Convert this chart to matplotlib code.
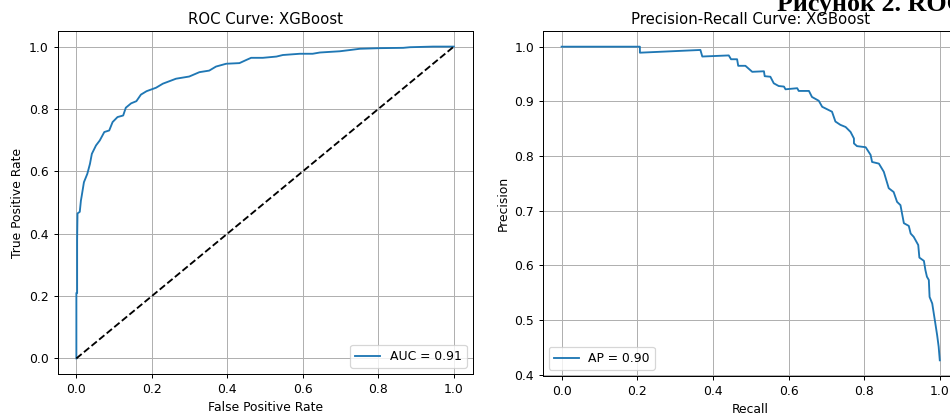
import numpy as np
import matplotlib
matplotlib.use('Agg')
import matplotlib.pyplot as plt

# ROC curve
fpr = [0.0, 0.0, 0.002, 0.002, 0.003, 0.009, 0.012, 0.014, 0.020, 0.029, 0.036,
       0.041, 0.052, 0.062, 0.074, 0.087, 0.096, 0.109, 0.124, 0.131, 0.145,
       0.159, 0.171, 0.186, 0.211, 0.229, 0.264, 0.299, 0.326, 0.352, 0.370,
       0.397, 0.432, 0.450, 0.463, 0.494, 0.530, 0.547, 0.592, 0.626, 0.645,
       0.671, 0.698, 0.725, 0.751, 0.804, 0.866, 0.884, 0.945, 1.0]
tpr = [0.0, 0.21, 0.21, 0.38, 0.465, 0.47, 0.506, 0.52, 0.565, 0.592, 0.624,
       0.656, 0.683, 0.699, 0.726, 0.731, 0.758, 0.774, 0.779, 0.804, 0.818,
       0.825, 0.846, 0.857, 0.868, 0.881, 0.897, 0.904, 0.918, 0.923, 0.936,
       0.945, 0.947, 0.957, 0.964, 0.964, 0.968, 0.973, 0.977, 0.977, 0.981,
       0.983, 0.985, 0.989, 0.993, 0.995, 0.996, 0.998, 1.0, 1.0]
auc_label = 'AUC = 0.91'

# Precision-recall curve
recall = [0.0, 0.207, 0.207, 0.367, 0.372, 0.442, 0.448, 0.464, 0.467, 0.486,
          0.504, 0.535, 0.537, 0.552, 0.561, 0.574, 0.588, 0.592, 0.623, 0.627,
          0.654, 0.662, 0.680, 0.689, 0.715, 0.724, 0.737, 0.751, 0.764, 0.773,
          0.773, 0.781, 0.804, 0.817, 0.821, 0.839, 0.852, 0.865, 0.878, 0.887,
          0.896, 0.905, 0.918, 0.923, 0.931, 0.943, 0.946, 0.958, 0.962, 0.966,
          0.971, 0.973, 0.980, 0.987, 0.993, 0.997, 1.0]
precision = [1.0, 1.0, 0.989, 0.994, 0.982, 0.984, 0.977, 0.977, 0.965, 0.965,
             0.954, 0.955, 0.946, 0.945, 0.933, 0.928, 0.927, 0.922, 0.924, 0.919,
             0.919, 0.908, 0.901, 0.890, 0.881, 0.863, 0.857, 0.853, 0.844, 0.832,
             0.823, 0.818, 0.816, 0.802, 0.789, 0.786, 0.771, 0.741, 0.734, 0.716,
             0.710, 0.677, 0.672, 0.658, 0.652, 0.637, 0.614, 0.608, 0.591, 0.579,
             0.573, 0.542, 0.530, 0.499, 0.472, 0.451, 0.426]
ap_label = 'AP = 0.90'

DPI = 89
fig = plt.figure(figsize=(950 / DPI, 413 / DPI), dpi=DPI)

# left panel
ax = fig.add_axes([57.5 / 950, 39 / 413, 415.2 / 950, 343 / 413])
ax.plot(fpr, tpr, label=auc_label)
ax.plot([0, 1], [0, 1], 'k--')
ax.set_title('ROC Curve: XGBoost')
ax.set_xlabel('False Positive Rate')
ax.set_ylabel('True Positive Rate')
ax.legend(loc='lower right')
ax.grid(True)

# right panel (runs past the right edge, like the reference crop)
bx = fig.add_axes([542.7 / 950, 37 / 413, 416 / 950, 345 / 413])
bx.plot(recall, precision, label=ap_label)
bx.set_title('Precision-Recall Curve: XGBoost')
bx.set_xlabel('Recall')
bx.set_ylabel('Precision')
bx.legend(loc='lower left')
bx.grid(True)

# caption from the surrounding document, cut at the top
fig.text(777 / 950, 1 - 11 / 413, 'Рисунок 2. ROC', family='Liberation Serif',
         fontweight='bold', fontsize=21, va='baseline', ha='left')

fig.savefig('out.png', dpi=DPI)
